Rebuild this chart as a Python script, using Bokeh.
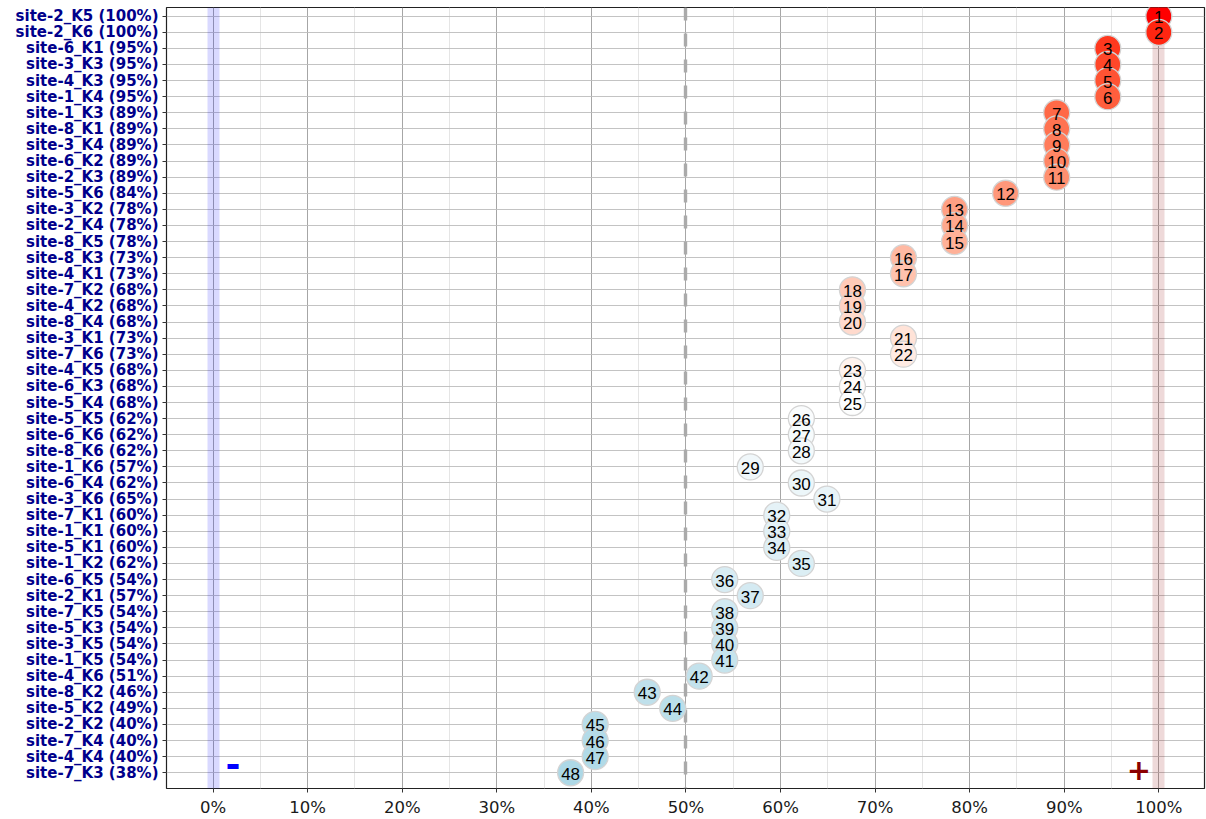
import numpy as np
from bokeh.plotting import figure
from bokeh.models import ColumnDataSource, Range1d, FixedTicker, NumeralTickFormatter, Label
from bokeh.embed import file_html
from bokeh.resources import INLINE
from bokeh.core.properties import value

# ranked groups, top to bottom
groups = [
    "site-2_K5", "site-2_K6", "site-6_K1", "site-3_K3", "site-4_K3", "site-1_K4",
    "site-1_K3", "site-8_K1", "site-3_K4", "site-6_K2", "site-2_K3", "site-5_K6",
    "site-3_K2", "site-2_K4", "site-8_K5", "site-8_K3", "site-4_K1", "site-7_K2",
    "site-4_K2", "site-8_K4", "site-3_K1", "site-7_K6", "site-4_K5", "site-6_K3",
    "site-5_K4", "site-5_K5", "site-6_K6", "site-8_K6", "site-1_K6", "site-6_K4",
    "site-3_K6", "site-7_K1", "site-1_K1", "site-5_K1", "site-1_K2", "site-6_K5",
    "site-2_K1", "site-7_K5", "site-5_K3", "site-3_K5", "site-1_K5", "site-4_K6",
    "site-8_K2", "site-5_K2", "site-2_K2", "site-7_K4", "site-4_K4", "site-7_K3",
]
# agreement score per group, in percent
scores = [
    100.0, 100.0, 94.6, 94.6, 94.6, 94.6,
    89.2, 89.2, 89.2, 89.2, 89.2, 83.8,
    78.4, 78.4, 78.4, 73.0, 73.0, 67.6,
    67.6, 67.6, 73.0, 73.0, 67.6, 67.6,
    67.6, 62.2, 62.2, 62.2, 56.8, 62.2,
    64.9, 59.6, 59.6, 59.6, 62.2, 54.1,
    56.8, 54.1, 54.1, 54.1, 54.1, 51.4,
    45.9, 48.6, 40.4, 40.4, 40.4, 37.8,
]
ranks = list(range(1, len(groups) + 1))
x_ticks = [i / 10 for i in range(11)]

n = len(groups)
ypos = [n + 1 - r for r in ranks]
xval = [s / 100 for s in scores]
ylabels = {n + 1 - r: f"{g} ({round(s)}%)" for r, g, s in zip(ranks, groups, scores)}


# diverging fill ramp interpolated in CIE Lab: lightblue -> white -> red
def _srgb_to_lab(h):
    c = np.array([int(h[i:i + 2], 16) / 255 for i in (1, 3, 5)])
    c = np.where(c <= 0.04045, c / 12.92, ((c + 0.055) / 1.055) ** 2.4)
    m = np.array([[0.4124, 0.3576, 0.1805], [0.2126, 0.7152, 0.0722], [0.0193, 0.1192, 0.9505]])
    xyz = m @ c / np.array([0.95047, 1.0, 1.08883])
    f = np.where(xyz > 0.008856, np.cbrt(xyz), 7.787 * xyz + 16 / 116)
    return np.array([116 * f[1] - 16, 500 * (f[0] - f[1]), 200 * (f[1] - f[2])])


def _lab_to_hex(lab):
    L, a, b = lab
    fy = (L + 16) / 116
    fx = fy + a / 500
    fz = fy - b / 200
    f = np.array([fx, fy, fz])
    xyz = np.where(f ** 3 > 0.008856, f ** 3, (f - 16 / 116) / 7.787) * np.array([0.95047, 1.0, 1.08883])
    mi = np.array([[3.2406, -1.5372, -0.4986], [-0.9689, 1.8758, 0.0415], [0.0557, -0.2040, 1.0570]])
    c = mi @ xyz
    c = np.where(c <= 0.0031308, 12.92 * c, 1.055 * np.clip(c, 0, None) ** (1 / 2.4) - 0.055)
    c = np.clip(np.round(c * 255), 0, 255).astype(int)
    return "#%02x%02x%02x" % tuple(c)


low, mid, high = _srgb_to_lab("#add8e6"), _srgb_to_lab("#ffffff"), _srgb_to_lab("#ff0000")
midpoint = 24.5
fills = []
for r in ranks:
    if r <= midpoint:
        t = (midpoint - r) / (midpoint - 1)
        fills.append(_lab_to_hex(mid + (high - mid) * t))
    else:
        t = (r - midpoint) / (n - midpoint)
        fills.append(_lab_to_hex(mid + (low - mid) * t))

src = ColumnDataSource(dict(x=xval, y=ypos, fill=fills, lab=[str(r) for r in ranks]))

p = figure(
    width=1206, height=819,
    x_range=Range1d(-0.0493, 1.0483), y_range=Range1d(0.02, n + 0.54),
    output_backend="svg", toolbar_location=None,
    min_border_left=166, min_border_right=2, min_border_top=7, min_border_bottom=31,
)
p.background_fill_color = "white"
p.border_fill_color = "white"
p.outline_line_color = "#222222"
p.outline_line_width = 1.2

# x axis
p.xaxis.ticker = FixedTicker(ticks=x_ticks, minor_ticks=[i / 20 for i in range(-1, 22, 2)])
p.xaxis.formatter = NumeralTickFormatter(format="0%")
p.xaxis.axis_line_color = None
p.xaxis.major_tick_line_color = "#333333"
p.xaxis.major_tick_out = 4
p.xaxis.major_tick_in = 0
p.xaxis.minor_tick_line_color = None
p.xaxis.major_label_text_font = "DejaVu Sans"
p.xaxis.major_label_text_font_size = "16.5px"
p.xaxis.major_label_text_color = "#1a1a1a"
p.xaxis.major_label_standoff = 5

# y axis with group labels
p.yaxis.ticker = FixedTicker(ticks=ypos)
p.yaxis.major_label_overrides = ylabels
p.yaxis.axis_line_color = None
p.yaxis.major_tick_line_color = "#333333"
p.yaxis.major_tick_out = 4
p.yaxis.major_tick_in = 0
p.yaxis.minor_tick_line_color = None
p.yaxis.major_label_text_font = "DejaVu Sans"
p.yaxis.major_label_text_font_style = "bold"
p.yaxis.major_label_text_font_size = "15px"
p.yaxis.major_label_text_color = "#00008B"
p.yaxis.major_label_standoff = 4

# grid
p.xgrid.grid_line_color = "#9c9c9c"
p.xgrid.grid_line_width = 0.9
p.xgrid.minor_grid_line_color = "#e2e2e2"
p.xgrid.minor_grid_line_width = 0.9
p.ygrid.grid_line_color = "#bcbcbc"
p.ygrid.grid_line_width = 0.9

# reference bands at 0% and 100%
p.vstrip(x0=[-0.0063], x1=[0.0067], fill_color="blue", fill_alpha=0.15, line_color=None)
p.vstrip(x0=[0.9933], x1=[1.0063], fill_color="#8B0000", fill_alpha=0.15, line_color=None)

# 50% reference line
p.vspan(x=[0.5], line_color="#aaaaaa", line_width=3.4, line_dash="13 13")

# points and rank numbers
p.scatter("x", "y", source=src, size=26, fill_color="fill", line_color="#d4d4d4", line_width=1.3)
p.text("x", "y", text="lab", source=src, text_align="center", text_baseline="middle",
       text_font=value("Liberation Sans"), text_font_size="17px", text_color="black",
       y_offset=1)

# direction markers
p.add_layout(Label(x=0.021, y=1.53, text="-", text_color="blue", text_font="DejaVu Sans",
                   text_font_style="bold", text_font_size="36px", text_align="center",
                   text_baseline="middle"))
p.add_layout(Label(x=0.979, y=1.23, text="+", text_color="#8B0000", text_font="DejaVu Sans",
                   text_font_style="bold", text_font_size="29px", text_align="center",
                   text_baseline="middle"))

open("out.html", "w").write(file_html(p, INLINE))
